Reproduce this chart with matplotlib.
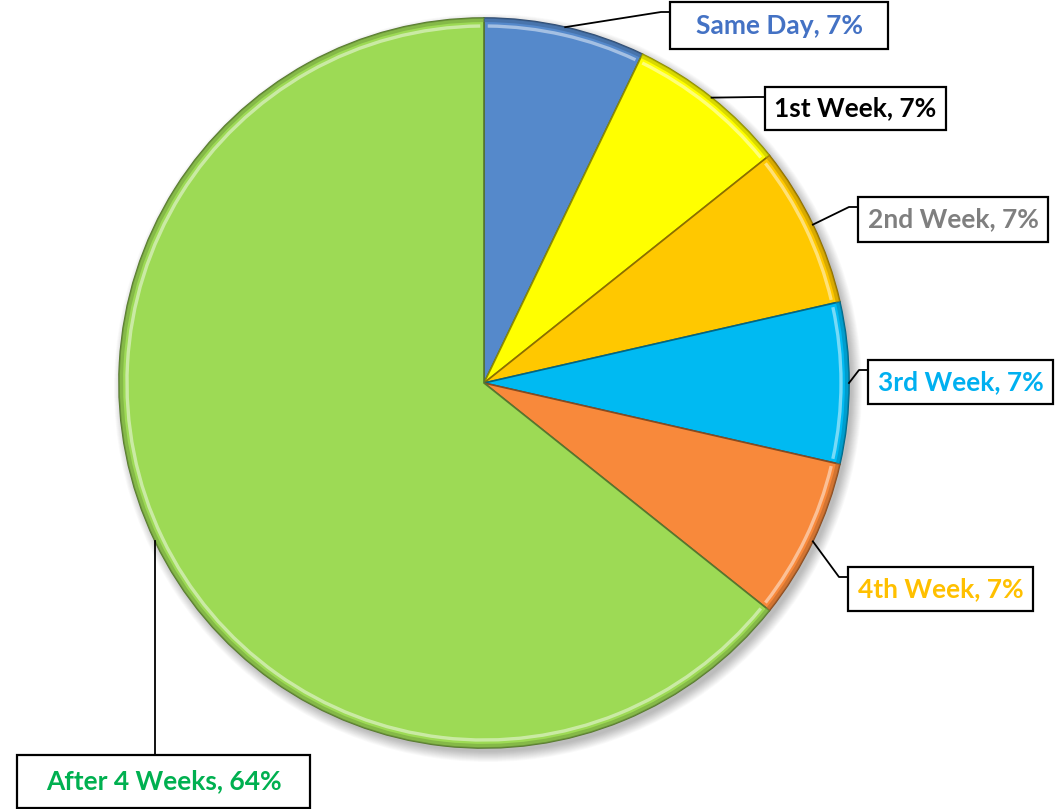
import numpy as np
import matplotlib.pyplot as plt
from matplotlib.patches import Rectangle, Circle, Arc
from matplotlib import colors as mcolors

# 응답 시점별 건수
labels = ['Same Day', '1st Week', '2nd Week', '3rd Week', '4th Week', 'After 4 Weeks']
counts = [1, 1, 1, 1, 1, 9]

slice_colors = ['#5589CB', '#FFFF00', '#FFC800', '#00BAF2', '#F8893B', '#9DDA55']
text_colors = ['#4472C4', '#000000', '#7F7F7F', '#00B0F0', '#FFC000', '#00B050']

W, H = 1064, 809
cx, cy, R = 484, H - 383, 365

# 라벨 상자 (왼쪽, 위, 너비, 높이) - 픽셀 기준
boxes = [(670, 2, 218, 47), (765, 87, 181, 43), (858, 197, 190, 45),
         (868, 360, 185, 44), (848, 567, 185, 44), (17, 755, 293, 53)]

fig = plt.figure(figsize=(W / 100, H / 100), dpi=100)
ax = fig.add_axes([0, 0, 1, 1])

# 부드러운 그림자
for i in range(14):
    ax.add_patch(Circle((cx + 4, cy - 5), R + 9 - i * 0.8, color='black',
                        alpha=0.018, lw=0, zorder=0))

wedges, _ = ax.pie(counts, colors=slice_colors, startangle=90, counterclock=False,
                   center=(cx, cy), radius=R, frame=True,
                   wedgeprops=dict(lw=1.2, zorder=2))
ax.set_xlim(0, W)
ax.set_ylim(0, H)
ax.set_aspect('equal')
ax.axis('off')

# 테두리 음영과 하이라이트로 입체감 표현
for w, c in zip(wedges, slice_colors):
    rgb = np.array(mcolors.to_rgb(c))
    w.set_edgecolor(rgb * 0.55)
    light = 1 - (1 - rgb) * 0.45
    ax.add_patch(Arc((cx, cy), 2 * (R - 8), 2 * (R - 8), theta1=w.theta1 + 0.6,
                     theta2=w.theta2 - 0.6, color=light, lw=2.4, alpha=0.85, zorder=3))
    ax.add_patch(Arc((cx, cy), 2 * (R - 2), 2 * (R - 2), theta1=w.theta1,
                     theta2=w.theta2, color=rgb * 0.75, lw=3, alpha=0.6, zorder=3))

total = sum(counts)
for w, lab, n, tc, (bx, by, bw, bh) in zip(wedges, labels, counts, text_colors, boxes):
    mid = np.deg2rad((w.theta1 + w.theta2) / 2)
    ex, ey = cx + R * np.cos(mid), cy + R * np.sin(mid)
    top = H - by
    if lab == 'After 4 Weeks':
        ax.plot([ex, ex], [ey, top], color='black', lw=1.3, zorder=4)
    else:
        ly = top - 10
        ax.plot([ex, bx - 9, bx], [ey, ly, ly], color='black', lw=1.3, zorder=4)
    ax.add_patch(Rectangle((bx, top - bh), bw, bh, fc='white', ec='black',
                           lw=1.6, zorder=5))
    ax.text(bx + bw / 2, top - bh / 2, f'{lab}, {round(100 * n / total)}%',
            ha='center', va='center', color=tc, fontsize=19,
            fontfamily='Lato', fontweight='bold', zorder=6)

fig.savefig('out.png', dpi=100)
